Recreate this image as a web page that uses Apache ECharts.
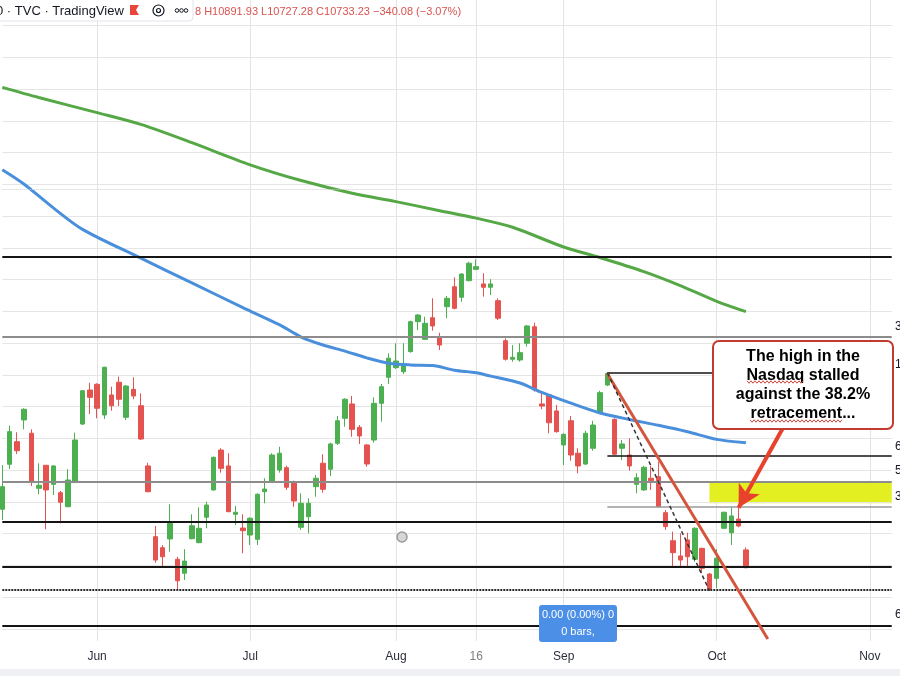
<!DOCTYPE html>
<html><head><meta charset="utf-8">
<script src="https://cdn.jsdelivr.net/npm/echarts@6/dist/echarts.min.js"></script>
<style>html,body{margin:0;padding:0;background:#fff}#c{width:900px;height:676px}</style>
</head><body><div id="c"></div>
<script>
const categories = ['05-12','05-13','05-16','05-17','05-18','05-19','05-20','05-23','05-24','05-25','05-26','05-27','05-31',
'06-01','06-02','06-03','06-06','06-07','06-08','06-09','06-10','06-13','06-14','06-15','06-16','06-17','06-21','06-22','06-23','06-24','06-27','06-28','06-29','06-30',
'07-01','07-05','07-06','07-07','07-08','07-11','07-12','07-13','07-14','07-15','07-18','07-19','07-20','07-21','07-22','07-25','07-26','07-27','07-28','07-29',
'08-01','08-02','08-03','08-04','08-05','08-08','08-09','08-10','08-11','08-12','08-15','08-16','08-17','08-18','08-19','08-22','08-23','08-24','08-25','08-26','08-29','08-30','08-31',
'09-01','09-02','09-06','09-07','09-08','09-09','09-12','09-13','09-14','09-15','09-16','09-19','09-20','09-21','09-22','09-23','09-26','09-27','09-28','09-29','09-30',
'10-03','10-04','10-05','10-06','10-07','10-10','10-11','10-12','10-13','10-14','10-17','10-18','10-19','10-20','10-21','10-24','10-25','10-26','10-27','10-28','10-31',
'11-01','11-02','11-03','11-04'];

const opens  = [11193,11547,11725,11896,11791,11358,11539,11389,11323,11213,11410,11864,12132,12177,11935,12093,12193,11917,12137,12008,11534,10977,10890,10959,10799,10689,10961,10930,11130,11345,11659,11534,11153,11045,10990,10956,11331,11410,11502,11520,11410,11051,11134,11371,11555,11508,11712,11909,12022,11838,11699,11738,12027,12232,12308,12276,12434,12670,12531,12701,12552,12788,12945,12862,12993,13082,12967,12941,12835,12520,12374,12368,12500,12630,12022,12093,11967,11699,11890,11634,11549,11673,11953,12171,11901,11673,11620,11389,11345,11437,11449,11166,10945,10825,10951,10799,10885,10683,10649,11043,11008,11116,10873];
const closes = [11371,11804,11654,11980,11410,11382,11345,11534,11248,11423,11738,12126,12074,11988,12311,12008,12059,12163,12085,11746,11331,10793,10819,11082,10630,10785,11063,11043,11226,11602,11515,11174,11169,11024,11122,11311,11352,11620,11634,11366,11258,11240,11240,11437,11350,11707,11890,12059,11822,11770,11549,12027,12158,12382,12360,12337,12670,12722,12657,12636,12486,12854,12775,13045,13130,13103,12941,12967,12697,12374,12389,12426,12636,12132,12006,11874,11804,11783,11620,11534,11791,11856,12111,12263,11626,11707,11534,11441,11523,11418,11213,11056,10851,10793,10819,11043,10728,10563,10807,11169,11140,11061,10733];
const lows   = [11108,11510,11628,11822,11376,11311,11035,11305,11082,11208,11405,11856,11943,11909,11904,11969,12006,11896,12059,11738,11326,10772,10741,10859,10557,10636,10956,10925,11043,11339,11481,11169,11069,10846,10911,10911,11240,11402,11481,11345,11213,11030,11004,11292,11323,11455,11699,11843,11764,11707,11528,11717,11882,12179,12297,12258,12426,12604,12526,12599,12447,12697,12767,12827,12988,13077,12867,12880,12683,12363,12355,12355,12473,12119,11980,11791,11796,11541,11575,11476,11541,11654,11948,12163,11620,11581,11497,11319,11337,11345,11208,11030,10741,10741,10736,10780,10689,10552,10573,11037,10911,11051,10727];
const highs  = [11541,11851,11799,11988,11822,11555,11541,11539,11337,11508,11796,12132,12189,12185,12315,12158,12237,12171,12232,12106,11559,11061,10911,11232,10819,10878,11153,11208,11252,11607,11673,11634,11219,11153,11130,11319,11437,11634,11685,11536,11418,11319,11279,11463,11626,11717,11927,12067,12085,11856,11707,12074,12179,12421,12500,12500,12678,12730,12709,12854,12583,12872,13019,13051,13142,13161,13051,13004,12854,12539,12486,12500,12644,12662,12106,12100,12014,11791,11927,11673,11811,11890,12126,12268,11909,11738,11752,11476,11534,11534,11567,11187,11016,11004,11008,11051,10890,10689,10878,11174,11213,11208,10892];

const ma200 = [['05-12',14515],['05-19',14435],['06-01',14316],['06-09',14223],['06-21',14079],['07-01',13905],['07-13',13781],['07-22',13681],['08-01',13615],['08-09',13544],['08-16',13485],['08-23',13413],['09-01',13258],['09-09',13174],['09-19',13064],['09-26',12954],['10-03',12830],['10-07',12749]];
const ma100 = [['05-12',13866],['05-17',13752],['05-23',13566],['05-27',13397],['06-09',13170],['06-21',12975],['06-30',12781],['07-08',12646],['07-13',12549],['07-18',12486],['07-21',12438],['07-26',12385],['07-29',12343],['08-03',12329],['08-08',12325],['08-11',12288],['08-16',12267],['08-18',12241],['08-24',12187],['08-29',12113],['09-02',12028],['09-09',11951],['09-15',11900],['09-21',11854],['09-27',11803],['10-03',11743],['10-07',11716]];

const gridLevels = [10250,10500,10750,11000,11250,11500,11750,12000,12250,12500,12750,13000,13250,13500,13750,14000,14250,14500,14750,15000];
const monthLabels = {'06-01':'Jun','07-01':'Jul','08-01':'Aug','08-16':'16','09-01':'Sep','10-03':'Oct','11-01':'Nov'};

const blackLevels = [13180, 11097, 10738, 10274];
const greyLevels = [12549, 11408];
const dottedLevel = 10557;
const faintLevel = 13715;
const fibStart = '09-12';
const fibBlack = [12265, 11611];
const fibGrey = [11213];
const zoneStart = '09-30', zoneTop = 11411, zoneBottom = 11240;
const trendRed = [['09-12', 12260], ['10-12', 10171]];
const trendDash = [['09-12', 12268], ['09-30', 10552]];
const arrowLine = [['10-14', 11825], ['10-06', 11205]];
const lastCat = categories[categories.length - 1];

const chart = echarts.init(document.getElementById('c'), null, {renderer: 'canvas'});

function squiggle(x0, x1, y) {
  const pts = [];
  let up = true;
  for (let x = x0; x <= x1; x += 2) { pts.push([x, y + (up ? -1.2 : 1.2)]); up = !up; }
  return pts;
}

const option = {
  animation: false,
  backgroundColor: '#ffffff',
  grid: {left: 2.3, right: 8.3, top: 0, bottom: 35},
  xAxis: {
    type: 'category', data: categories, boundaryGap: false,
    axisLine: {show: false}, axisTick: {show: false},
    axisLabel: {
      interval: (i, v) => v in monthLabels,
      formatter: v => monthLabels[v] === '16' ? '{g|16}' : (monthLabels[v] || ''),
      color: '#2a2e39', fontSize: 12, margin: 10, fontFamily: 'Liberation Sans',
      rich: {g: {color: '#808080', fontSize: 12, fontFamily: 'Liberation Sans'}}
    },
    splitLine: {show: true, interval: (i, v) => v in monthLabels, lineStyle: {color: '#e3e3e3', width: 1}}
  },
  yAxis: {type: 'value', min: 10155.5, max: 15202.75, show: false, splitLine: {show: false}},
  series: [
    {
      name: 'grid', type: 'line', data: [], silent: true,
      markLine: {
        silent: true, symbol: 'none', z: 1, animation: false,
        label: {show: false},
        lineStyle: {color: '#e5e5e5', width: 1, type: 'solid'},
        data: gridLevels.map(v => ({yAxis: v}))
      }
    },
    {
      name: 'NASDAQ', type: 'candlestick', barWidth: 5, z: 2,
      data: opens.map((o, i) => [o, closes[i], lows[i], highs[i]]),
      itemStyle: {color: '#4caf50', color0: '#e4534f', borderColor: '#4caf50', borderColor0: '#e4534f', borderWidth: 1}
    },
    {
      name: 'MA200', type: 'line', data: ma200, smooth: 0.3, symbol: 'none', z: 3,
      lineStyle: {color: '#55a845', width: 3}
    },
    {
      name: 'MA100', type: 'line', data: ma100, smooth: 0.3, symbol: 'none', z: 3,
      lineStyle: {color: '#4a8fdb', width: 3}
    },
    {
      name: 'drawings', type: 'line', data: [], silent: true,
      markArea: {
        silent: true, itemStyle: {color: '#e4ef22', opacity: 1},
        data: [[{coord: [zoneStart, zoneTop]}, {coord: [lastCat, zoneBottom]}]]
      },
      markLine: {
        silent: true, symbol: 'none', animation: false, z: 5,
        label: {show: false},
        data: [
          ...blackLevels.map(v => ({yAxis: v, lineStyle: {color: '#151515', width: 2, type: 'solid'}})),
          ...greyLevels.map(v => ({yAxis: v, lineStyle: {color: '#8c8c8c', width: 2, type: 'solid'}})),
          {yAxis: dottedLevel, lineStyle: {color: '#2a2a2a', width: 2, type: [2, 1]}},
          {yAxis: faintLevel, lineStyle: {color: '#cfcfcf', width: 1, type: 'dotted'}},
          ...fibBlack.map(v => [{coord: [fibStart, v], lineStyle: {color: '#151515', width: 1.5, type: 'solid'}}, {coord: [lastCat, v]}]),
          ...fibGrey.map(v => [{coord: [fibStart, v], lineStyle: {color: '#9a9a9a', width: 1.5, type: 'solid'}}, {coord: [lastCat, v]}])
        ]
      }
    },
    {
      name: 'trend', type: 'line', data: [], silent: true,
      markLine: {
        silent: true, animation: false, z: 6,
        label: {show: false},
        data: [
          [{coord: trendRed[0], symbol: 'none', lineStyle: {color: '#d4553c', width: 3, type: 'solid'}}, {coord: trendRed[1], symbol: 'none'}],
          [{coord: trendDash[0], symbol: 'none', lineStyle: {color: '#333', width: 1.5, type: [4, 3]}}, {coord: trendDash[1], symbol: 'none'}],
          [{coord: arrowLine[0], symbol: 'none', lineStyle: {color: '#e8412c', width: 4, type: 'solid'}}, {coord: arrowLine[1], symbol: 'arrow', symbolSize: [18, 22], itemStyle: {color: '#e8412c'}}]
        ]
      }
    }
  ],
  graphic: [
    {type: 'rect', z: 100, shape: {x: 0, y: 669, width: 900, height: 7}, style: {fill: '#eef0f3'}},
    // header
    {type: 'rect', z: 100, shape: {x: -4, y: -4, width: 197, height: 25, r: 4}, style: {fill: '#ffffff', stroke: '#e0e3eb', lineWidth: 1}},
    {type: 'text', z: 101, style: {text: '0 · TVC · TradingView', x: -4, y: 11, font: '13px "Liberation Sans"', fill: '#131722', verticalAlign: 'middle', textVerticalAlign: 'middle'}},
    {type: 'polygon', z: 101, shape: {points: [[130, 5], [139, 5], [136, 10], [139, 15], [130, 15]]}, style: {fill: '#e8453c'}},
    {type: 'circle', z: 101, shape: {cx: 158.5, cy: 10.5, r: 5.5}, style: {fill: 'none', stroke: '#131722', lineWidth: 1.2}},
    {type: 'circle', z: 101, shape: {cx: 158.5, cy: 10.5, r: 2}, style: {fill: 'none', stroke: '#131722', lineWidth: 1.2}},
    {type: 'circle', z: 101, shape: {cx: 177, cy: 10.5, r: 1.8}, style: {fill: 'none', stroke: '#131722', lineWidth: 1}},
    {type: 'circle', z: 101, shape: {cx: 181.5, cy: 10.5, r: 1.8}, style: {fill: 'none', stroke: '#131722', lineWidth: 1}},
    {type: 'circle', z: 101, shape: {cx: 186, cy: 10.5, r: 1.8}, style: {fill: 'none', stroke: '#131722', lineWidth: 1}},
    {type: 'text', z: 101, style: {text: '8 H10891.93 L10727.28 C10733.23 −340.08 (−3.07%)', x: 195, y: 12, font: '11px "Liberation Sans"', fill: '#d9534f', verticalAlign: 'middle', textVerticalAlign: 'middle'}},
    // callout
    {type: 'rect', z: 110, shape: {x: 713, y: 341, width: 180, height: 88, r: 6}, style: {fill: '#ffffff', stroke: '#c23b2e', lineWidth: 2}},
    {type: 'text', z: 111, style: {text: 'The high in the\nNasdaq stalled\nagainst the 38.2%\nretracement...', x: 803, y: 385, font: 'bold 16px "Liberation Sans"', fill: '#000000', align: 'center', textAlign: 'center', verticalAlign: 'middle', textVerticalAlign: 'middle', lineHeight: 19}},
    {type: 'polyline', z: 111, shape: {points: squiggle(747, 803, 382)}, style: {stroke: '#d0453a', lineWidth: 1, fill: 'none'}},
    {type: 'polyline', z: 111, shape: {points: squiggle(750, 843, 421)}, style: {stroke: '#d0453a', lineWidth: 1, fill: 'none'}},
    // blue measure box
    {type: 'rect', z: 100, shape: {x: 539, y: 605, width: 78, height: 37, r: 3}, style: {fill: '#4b8fe6'}},
    {type: 'text', z: 101, style: {text: '0.00 (0.00%) 0', x: 578, y: 615, font: '11px "Liberation Sans"', fill: '#ffffff', align: 'center', textAlign: 'center', verticalAlign: 'middle', textVerticalAlign: 'middle'}},
    {type: 'text', z: 101, style: {text: '0 bars,', x: 578, y: 632, font: '11px "Liberation Sans"', fill: '#ffffff', align: 'center', textAlign: 'center', verticalAlign: 'middle', textVerticalAlign: 'middle'}},
    // alarm icon
    {type: 'circle', z: 100, shape: {cx: 402, cy: 537, r: 5}, style: {fill: '#d6d6d6', stroke: '#9a9a9a', lineWidth: 1.5}},
    // right scale partial labels
    {type: 'rect', z: 100, shape: {x: 893, y: 0, width: 7, height: 641}, style: {fill: '#ffffff'}},
    ...[[327, '3'], [365, '10'], [447, '6'], [471, '5'], [497, '3'], [615, '6']].map(([y, t]) => ({
      type: 'text', z: 101, style: {text: t, x: 895, y: y, font: '12px "Liberation Sans"', fill: '#131722', verticalAlign: 'middle', textVerticalAlign: 'middle'}
    }))
  ]
};
chart.setOption(option);
</script>
</body></html>
